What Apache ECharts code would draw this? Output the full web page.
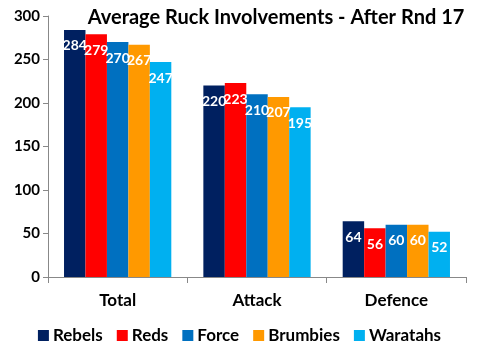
<!DOCTYPE html>
<html><head><meta charset="utf-8">
<script src="https://cdn.jsdelivr.net/npm/echarts@6/dist/echarts.min.js"></script>
<style>html,body{margin:0;padding:0;background:#fff}#c{width:479px;height:355px}</style>
</head><body><div id="c"></div>
<script>
const categories = ['Total', 'Attack', 'Defence'];
const seriesNames = ['Rebels', 'Reds', 'Force', 'Brumbies', 'Waratahs'];
const rebels = [284, 220, 64];
const reds = [279, 223, 56];
const force = [270, 210, 60];
const brumbies = [267, 207, 60];
const waratahs = [247, 195, 52];
const colors = ['#002060', '#FF0000', '#0070C0', '#FF9900', '#00B0F0'];
const values = [rebels, reds, force, brumbies, waratahs];
const FONT = 'Lato';
const chart = echarts.init(document.getElementById('c'));
chart.setOption({
  animation: false,
  title: {
    text: 'Average Ruck Involvements - After Rnd 17',
    left: 271, top: 3, textAlign: 'center',
    textStyle: {fontFamily: FONT, fontWeight: 'bold', fontSize: 20, color: '#000'}
  },
  legend: {
    bottom: 6, left: 'center', itemWidth: 11, itemHeight: 11, itemGap: 14,
    icon: 'rect',
    textStyle: {fontFamily: FONT, fontWeight: 'bold', fontSize: 17, color: '#000', padding: [0,0,0,-1]}
  },
  grid: {left: 48, right: 13, top: 16, bottom: 78},
  xAxis: {
    type: 'category', data: categories,
    axisLine: {lineStyle: {color: '#888'}},
    axisTick: {show: true, length: 6, lineStyle: {color: '#888'}},
    axisLabel: {fontFamily: FONT, fontWeight: 'bold', fontSize: 17, color: '#000', margin: 15}
  },
  yAxis: {
    type: 'value', min: 0, max: 300, interval: 50,
    splitLine: {show: false},
    axisLine: {show: true, lineStyle: {color: '#888'}},
    axisTick: {show: true, length: 5, lineStyle: {color: '#888'}},
    axisLabel: {fontFamily: FONT, fontWeight: 'bold', fontSize: 15, color: '#000', margin: 8}
  },
  series: seriesNames.map((n, i) => ({
    name: n, type: 'bar', data: values[i],
    barGap: '0%', barCategoryGap: '23%',
    itemStyle: {color: colors[i]},
    label: {show: true, position: 'insideTop', distance: 9,
      fontFamily: FONT, fontWeight: 'bold', fontSize: 14, color: '#fff'}
  }))
});
</script></body></html>
